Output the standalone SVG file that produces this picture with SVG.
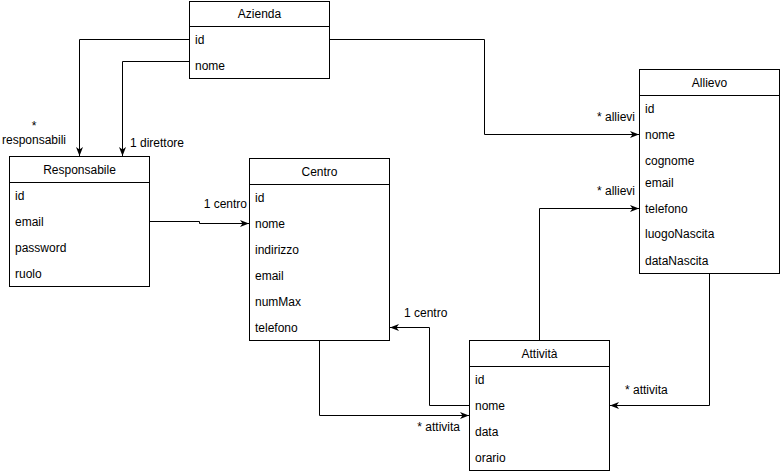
<svg xmlns="http://www.w3.org/2000/svg" width="780" height="474" viewBox="0 0 780 474">
<defs>
<style>
text{font-family:"Liberation Sans",Arial,sans-serif;font-size:12px;fill:#000}
.t{text-anchor:middle}
.box{fill:#fff;stroke:#000;stroke-width:1}
.ln{fill:none;stroke:#000;stroke-width:1}
.c{fill:none;stroke:#000;stroke-width:1;marker-end:url(#arr)}
</style>
<marker id="arr" markerUnits="userSpaceOnUse" markerWidth="10" markerHeight="8" refX="9" refY="3.5" orient="auto" viewBox="0 0 10 8">
<path d="M0,0 L9,3.5 L0,7 L2.5,3.5 Z" fill="#000"/>
</marker>
</defs>
<rect width="780" height="474" fill="#fff"/>
<g id="connectors">
<path class="c" d="M189.5,39.5 H79.5 V156"/>
<path class="c" d="M189.5,61.5 H122.5 V156"/>
<path class="c" d="M149.5,221.5 H199.5 V223.5 H249"/>
<path class="c" d="M329.5,39.5 H484.5 V134.5 H639"/>
<path class="c" d="M539.5,340.5 V208.5 H639"/>
<path class="c" d="M319.5,340.5 V415.5 H469"/>
<path class="c" d="M469.5,405.5 H429.5 V327.5 H390"/>
<path class="c" d="M709.5,273.5 V405.5 H610"/>
<text x="34" y="130" class="t">*</text>
<text x="34" y="144" class="t">responsabili</text>
<text x="130" y="147">1 direttore</text>
<text x="635" y="121" text-anchor="end">* allievi</text>
<text x="635" y="195" text-anchor="end">* allievi</text>
<text x="247" y="208" text-anchor="end">1 centro</text>
<text x="404" y="317">1 centro</text>
<text x="460" y="431" text-anchor="end">* attivita</text>
<text x="625" y="394">* attivita</text>
</g>
<g id="azienda">
<rect class="box" x="189.5" y="1.5" width="140" height="77"/>
<line class="ln" x1="189.5" y1="26.5" x2="329.5" y2="26.5"/>
<text x="259.5" y="18" class="t">Azienda</text>
<text x="195" y="44">id</text>
<text x="195" y="70">nome</text>
</g>
<g id="responsabile">
<rect class="box" x="9.5" y="156.5" width="140" height="130"/>
<line class="ln" x1="9.5" y1="182.5" x2="149.5" y2="182.5"/>
<text x="79.5" y="174" class="t">Responsabile</text>
<text x="15" y="200">id</text>
<text x="15" y="226">email</text>
<text x="15" y="252">password</text>
<text x="15" y="278">ruolo</text>
</g>
<g id="centro">
<rect class="box" x="249.5" y="158.5" width="140" height="182"/>
<line class="ln" x1="249.5" y1="184.5" x2="389.5" y2="184.5"/>
<text x="319.5" y="176" class="t">Centro</text>
<text x="255" y="202">id</text>
<text x="255" y="228">nome</text>
<text x="255" y="254">indirizzo</text>
<text x="255" y="280">email</text>
<text x="255" y="306">numMax</text>
<text x="255" y="332">telefono</text>
</g>
<g id="allievo">
<rect class="box" x="639.5" y="69.5" width="140" height="204"/>
<line class="ln" x1="639.5" y1="95.5" x2="779.5" y2="95.5"/>
<text x="709.5" y="87" class="t">Allievo</text>
<text x="645" y="113">id</text>
<text x="645" y="139">nome</text>
<text x="645" y="165">cognome</text>
<text x="645" y="187">email</text>
<text x="645" y="213">telefono</text>
<text x="645" y="238">luogoNascita</text>
<text x="645" y="265">dataNascita</text>
</g>
<g id="attivita">
<rect class="box" x="469.5" y="340.5" width="140" height="130"/>
<line class="ln" x1="469.5" y1="366.5" x2="609.5" y2="366.5"/>
<text x="539.5" y="358" class="t">Attività</text>
<text x="475" y="384">id</text>
<text x="475" y="410">nome</text>
<text x="475" y="436">data</text>
<text x="475" y="462">orario</text>
</g>
</svg>
